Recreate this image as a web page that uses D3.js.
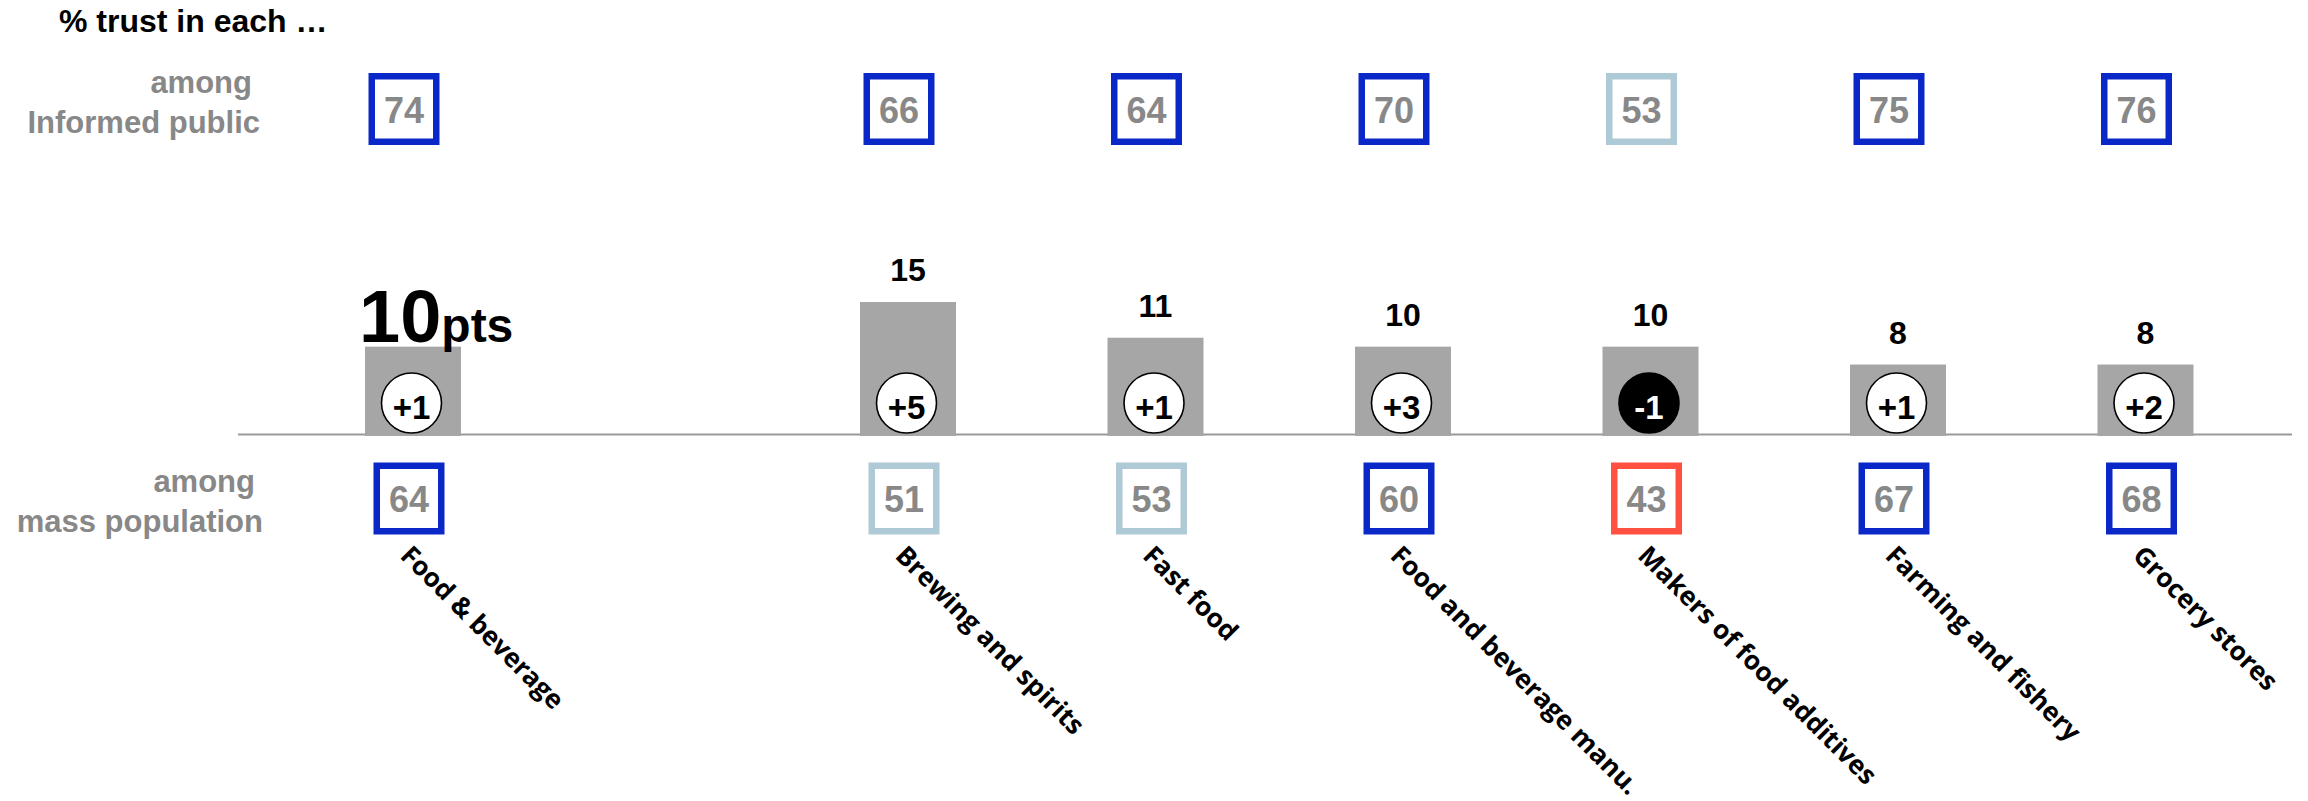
<!DOCTYPE html>
<html><head><meta charset="utf-8">
<script src="https://cdn.jsdelivr.net/npm/d3@7"></script>
<style>body{margin:0;background:#fff}svg{display:block}</style>
</head><body><svg id="c" width="2308" height="801"></svg>
<script>
// ---- data ----
const categories = ["Food & beverage","Brewing and spirits","Fast food","Food and beverage manu.","Makers of food additives","Farming and fishery","Grocery stores"];
const gapValues = [10,15,11,10,10,8,8];          // trust gap, pts
const changeValues = [1,5,1,3,-1,1,2];           // change vs last year
const informedValues = [74,66,64,70,53,75,76];   // % trust, informed public
const massValues = [64,51,53,60,43,67,68];       // % trust, mass population
const titleText = "% trust in each \u2026";
const informedLabel = ["among","Informed public"];
const massLabel = ["among","mass population"];
const unitLabel = "pts";
const trustThresholds = [50,60];

// ---- styles ----
const BLUE="#0A28C8", LIGHT="#AECAD6", RED="#FF5040", GRAY="#888888", BAR="#A6A6A6";
const sans = "'Liberation Sans', Arial, sans-serif";
const labelFont = "'Open Sans', 'Noto Sans', sans-serif";

const svg = d3.select("#c");
const slots = [categories[0], "__spacer__", ...categories.slice(1)];
const step = 247.5, bw = 96, x0 = 365;
const x = d3.scaleBand().domain(slots)
  .range([x0, x0 + 7*step + bw]).paddingInner(1 - bw/step).paddingOuter(0).align(0);
const cx = d => x(d) + x.bandwidth()/2;
const y = d3.scaleLinear().domain([0,15]).range([436,302]);
const color = d3.scaleThreshold().domain(trustThresholds).range([RED, LIGHT, BLUE]);

const rows = categories.map((c,i)=>({cat:c, gap:gapValues[i], chg:changeValues[i], inf:informedValues[i], mass:massValues[i], i}));

// title
svg.append("text").attr("x",59).attr("y",32).attr("font-family",sans).attr("font-weight","bold")
  .attr("font-size",32).attr("fill","#000").text(titleText);

// row labels
const rl = (lines, ys, xs) => lines.forEach((t,k)=>svg.append("text").attr("x",xs[k]).attr("y",ys[k])
  .attr("text-anchor","end").attr("font-family",sans).attr("font-weight","bold").attr("font-size",31)
  .attr("fill",GRAY).text(t));
rl(informedLabel,[93,133],[252,260]);
rl(massLabel,[492,532],[255,263]);

// baseline
svg.append("line").attr("x1",238).attr("x2",2292).attr("y1",434.5).attr("y2",434.5)
  .attr("stroke","#999").attr("stroke-width",2);

// bars
svg.append("g").selectAll("rect").data(rows).join("rect")
  .attr("x",d=>x(d.cat)).attr("width",x.bandwidth())
  .attr("y",d=>y(d.gap)).attr("height",d=>y(0)-y(d.gap)).attr("fill",BAR);

// value labels
const vl = svg.append("g").selectAll("text").data(rows).join("text")
  .attr("font-family",sans).attr("font-weight","bold").attr("fill","#000");
vl.filter(d=>d.i>0).attr("x",d=>cx(d.cat)).attr("y",d=>y(d.gap)-21)
  .attr("text-anchor","middle").attr("font-size",32).text(d=>d.gap);
vl.filter(d=>d.i===0).attr("x",d=>x(d.cat)-6).attr("y",d=>y(d.gap)-5).attr("text-anchor","start")
  .each(function(d){
    const t=d3.select(this);
    t.append("tspan").attr("font-size",74).text(d.gap);
    t.append("tspan").attr("font-size",48).text(unitLabel);
  });

// change circles
const cg = svg.append("g").selectAll("g").data(rows).join("g")
  .attr("transform",d=>`translate(${cx(d.cat)-1.5},403)`);
cg.append("circle").attr("r",30).attr("fill",d=>d.chg<0?"#000":"#fff")
  .attr("stroke","#000").attr("stroke-width",1.6);
cg.append("text").attr("text-anchor","middle").attr("y",16).attr("font-family",sans)
  .attr("font-weight","bold").attr("font-size",33).attr("fill",d=>d.chg<0?"#fff":"#000")
  .text(d=>(d.chg>0?"+":"")+d.chg);

// boxes
function boxes(key, cy, off){
  const g = svg.append("g").selectAll("g").data(rows).join("g")
    .attr("transform",d=>`translate(${cx(d.cat)+off},${cy})`);
  g.append("rect").attr("x",-32.25).attr("y",-32.75).attr("width",64.5).attr("height",65.5)
    .attr("fill","#fff").attr("stroke",d=>color(d[key])).attr("stroke-width",6.5);
  g.append("text").attr("text-anchor","middle").attr("y",13.5).attr("font-family",sans)
    .attr("font-weight","bold").attr("font-size",36).attr("fill",GRAY).text(d=>d[key]);
}
boxes("inf",109,-9);
boxes("mass",498.5,-4);

// category labels
svg.append("g").selectAll("text").data(rows).join("text")
  .attr("transform",d=>`translate(${cx(d.cat)-14},557) rotate(45)`)
  .attr("font-family",labelFont).attr("font-weight",700).attr("font-size",26.3).attr("fill","#000")
  .text(d=>d.cat);
</script></body></html>
